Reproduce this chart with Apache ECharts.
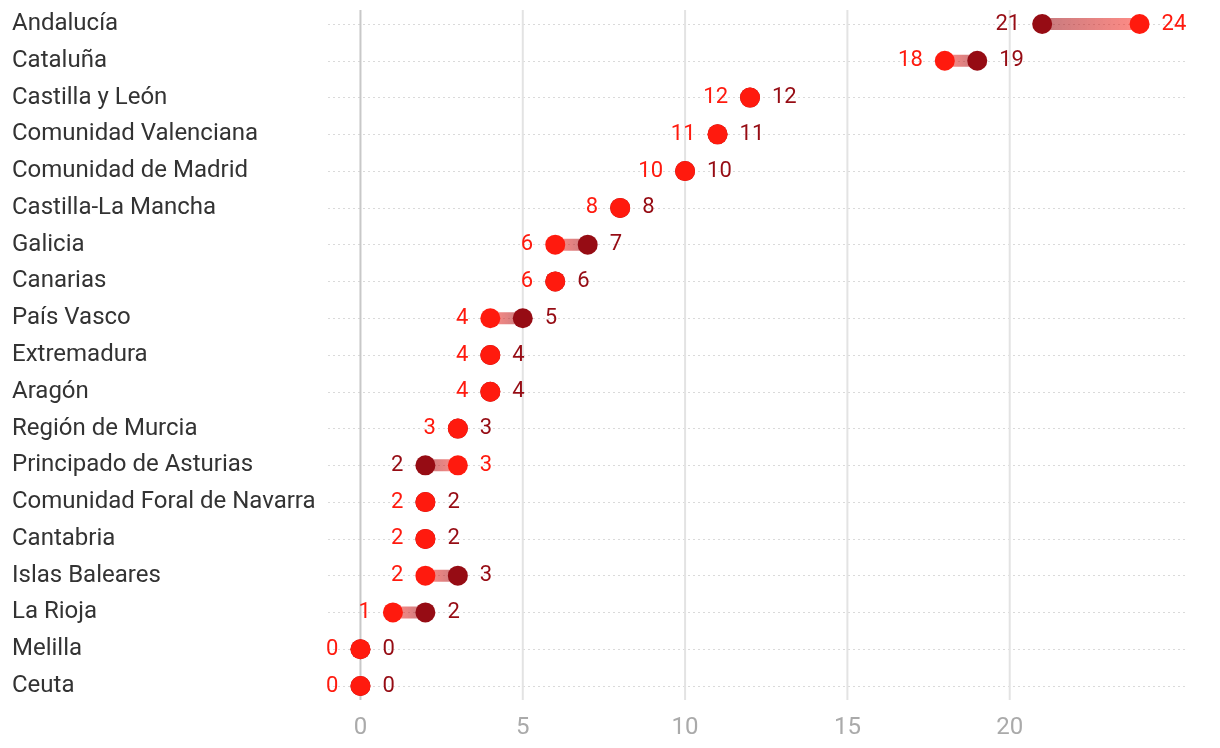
<!DOCTYPE html>
<html>
<head>
<meta charset="utf-8">
<script src="https://cdn.jsdelivr.net/npm/echarts@6/dist/echarts.min.js"></script>
<style>html,body{margin:0;padding:0;background:#fff}#c{width:1220px;height:748px}</style>
</head>
<body>
<div id="c"></div>
<script>
const regions = ["Andalucía","Cataluña","Castilla y León","Comunidad Valenciana","Comunidad de Madrid","Castilla-La Mancha","Galicia","Canarias","País Vasco","Extremadura","Aragón","Región de Murcia","Principado de Asturias","Comunidad Foral de Navarra","Cantabria","Islas Baleares","La Rioja","Melilla","Ceuta"];
const redValues  = [24,18,12,11,10,8,6,6,4,4,4,3,3,2,2,2,1,0,0];
const darkValues = [21,19,12,11,10,8,7,6,5,4,4,3,2,2,2,3,2,0,0];
const xTicks = [0,5,10,15,20];

const RED = '#ff1a0e', DARK = '#960c14';
const FONT = 'Roboto';

const chart = echarts.init(document.getElementById('c'), null, {renderer:'canvas'});

const redData = redValues.map((v,i)=>({
  value:[v,i],
  label:{position: v <= darkValues[i] ? 'left' : 'right'}
}));
const darkData = darkValues.map((v,i)=>({
  value:[v,i],
  label:{position: v >= redValues[i] ? 'right' : 'left'}
}));

chart.setOption({
  animation:false,
  grid:{left:328,right:35,top:24,bottom:62,containLabel:false},
  xAxis:{
    type:'value', min:-1, max:25.4,
    axisLine:{show:false}, axisTick:{show:false},
    splitLine:{show:false},
    axisLabel:{show:false}
  },
  yAxis:{
    type:'category', data:regions, inverse:true, boundaryGap:false,
    axisLine:{show:false}, axisTick:{show:false},
    axisLabel:{align:'left', margin:316, color:'#333', fontSize:24, fontFamily:FONT, padding:[6,0,0,0]},
    splitLine:{show:true, lineStyle:{color:'#dadada', type:[2,3], width:1}}
  },
  series:[
    {
      type:'custom', name:'grid', silent:true, z:1,
      data: xTicks.map(v=>[v]),
      encode:{x:0},
      clip:false,
      renderItem:(params, api)=>{
        const v = api.value(0);
        const top = api.coord([v, 0]);
        const bot = api.coord([v, regions.length-1]);
        return {
          type:'group',
          children:[
            {type:'line', shape:{x1:top[0], y1:top[1]-14, x2:bot[0], y2:bot[1]+14},
             style:{stroke: v===0 ? '#c8c8c8' : '#e3e3e3', lineWidth:2}},
            {type:'text', x:bot[0], y:bot[1]+42,
             style:{text:String(v), fill:'#aaa', font:'24px '+FONT, align:'center', verticalAlign:'middle'}}
          ]
        };
      }
    },
    {
      type:'custom', name:'connector', silent:true, z:2,
      data: regions.map((r,i)=>[darkValues[i], redValues[i], i]),
      encode:{x:[0,1], y:2},
      renderItem:(params, api)=>{
        const i = api.value(2);
        const a = api.coord([api.value(0), i]);
        const b = api.coord([api.value(1), i]);
        if (Math.abs(a[0]-b[0]) < 0.5) return null;
        return {
          type:'line',
          shape:{x1:a[0], y1:a[1], x2:b[0], y2:b[1]},
          style:{
            lineWidth:12,
            stroke: new echarts.graphic.LinearGradient(a[0], 0, b[0], 0, [
              {offset:0, color:'rgba(150,12,20,0.55)'},
              {offset:1, color:'rgba(255,26,14,0.5)'}
            ], true)
          }
        };
      }
    },
    {
      type:'scatter', name:'dark', z:3, symbolSize:20,
      itemStyle:{color:DARK, opacity:1},
      data:darkData,
      label:{show:true, color:DARK, fontSize:22, fontFamily:FONT, distance:12, padding:[4,0,0,0], formatter:p=>p.value[0]}
    },
    {
      type:'scatter', name:'red', z:4, symbolSize:20,
      itemStyle:{color:RED, opacity:1},
      data:redData,
      label:{show:true, color:RED, fontSize:22, fontFamily:FONT, distance:12, padding:[4,0,0,0], formatter:p=>p.value[0]}
    }
  ]
});
</script>
</body>
</html>
